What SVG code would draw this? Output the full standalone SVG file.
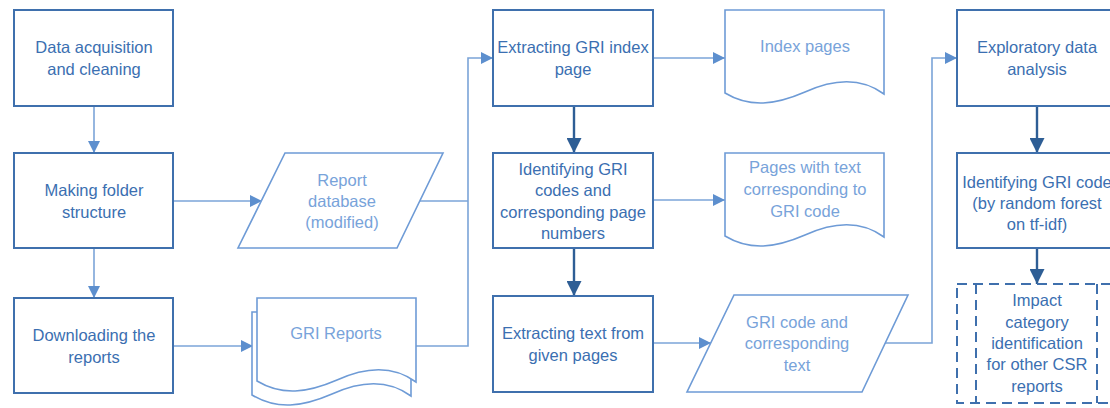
<svg xmlns="http://www.w3.org/2000/svg" width="1110" height="408" viewBox="0 0 1110 408">
<style>
.proc{fill:#fff;stroke:#3f70ad;stroke-width:2}
.data{fill:#fff;stroke:#6e9bd6;stroke-width:1.6}
.dash{fill:none;stroke:#3f70ad;stroke-width:2;stroke-dasharray:10,6}
.ptxt{font-family:"Liberation Sans",Arial,sans-serif;font-size:16.5px;fill:#3b6fb1;text-anchor:middle}
.dtxt{font-family:"Liberation Sans",Arial,sans-serif;font-size:16.5px;fill:#78a3da;text-anchor:middle}
.lc{fill:none;stroke:#7ba4d8;stroke-width:1.6}
.dc{fill:none;stroke:#2e5e95;stroke-width:2.4}
</style>
<defs>
<marker id="la" viewBox="0 0 10 10" refX="10" refY="5" markerWidth="12" markerHeight="12" markerUnits="userSpaceOnUse" orient="auto"><path d="M0,0 L10,5 L0,10 Z" fill="#5d8fce"/></marker>
<marker id="da" viewBox="0 0 10 10" refX="10" refY="5" markerWidth="15" markerHeight="15" markerUnits="userSpaceOnUse" orient="auto"><path d="M0,0 L10,5 L0,10 Z" fill="#2e5e95"/></marker>
<path id="doc" d="M0,0 H159 V84 C140,70 115,66 80,82 C50,95 25,98 0,83 Z"/>
</defs>

<g id="connectors">
<line class="lc" x1="94" y1="106" x2="94" y2="153" marker-end="url(#la)"/>
<line class="lc" x1="94" y1="248" x2="94" y2="298" marker-end="url(#la)"/>
<line class="lc" x1="173" y1="201" x2="262" y2="201" marker-end="url(#la)"/>
<line class="lc" x1="173" y1="346" x2="253" y2="346" marker-end="url(#la)"/>
<line class="lc" x1="420" y1="201" x2="468" y2="201"/>
<polyline class="lc" points="416,346 468,346 468,58 493,58" marker-end="url(#la)"/>
<line class="dc" x1="574" y1="106" x2="574" y2="153" marker-end="url(#da)"/>
<line class="dc" x1="574" y1="248" x2="574" y2="296" marker-end="url(#da)"/>
<line class="lc" x1="653" y1="58" x2="725" y2="58" marker-end="url(#la)"/>
<line class="lc" x1="653" y1="200" x2="725" y2="200" marker-end="url(#la)"/>
<line class="lc" x1="653" y1="343" x2="711" y2="343" marker-end="url(#la)"/>
<polyline class="lc" points="885,343 932,343 932,58 957,58" marker-end="url(#la)"/>
<line class="dc" x1="1037" y1="106" x2="1037" y2="153" marker-end="url(#da)"/>
<line class="dc" x1="1037" y1="248" x2="1037" y2="284" marker-end="url(#da)"/>
</g>

<g id="n-acq"><rect class="proc" x="14" y="10" width="159" height="96"/>
<text class="ptxt" x="94" y="53">Data acquisition</text><text class="ptxt" x="94" y="75">and cleaning</text></g>
<g id="n-folder"><rect class="proc" x="14" y="153" width="159" height="95"/>
<text class="ptxt" x="94" y="196">Making folder</text><text class="ptxt" x="94" y="218">structure</text></g>
<g id="n-download"><rect class="proc" x="14" y="298" width="159" height="95"/>
<text class="ptxt" x="94" y="341">Downloading the</text><text class="ptxt" x="94" y="363">reports</text></g>

<g id="n-reportdb"><polygon class="data" points="285,153 443,153 397,248 238,248"/>
<text class="dtxt" x="342" y="186">Report</text><text class="dtxt" x="342" y="207">database</text><text class="dtxt" x="342" y="228">(modified)</text></g>

<g id="n-grireports">
<use href="#doc" class="data" transform="translate(252,312)"/>
<use href="#doc" class="data" transform="translate(257,298)"/>
<text class="dtxt" x="336" y="339">GRI Reports</text></g>

<g id="n-extract-index"><rect class="proc" x="493" y="10" width="160" height="96"/>
<text class="ptxt" x="573" y="53">Extracting GRI index</text><text class="ptxt" x="573" y="75">page</text></g>
<g id="n-identify"><rect class="proc" x="493" y="153" width="160" height="95"/>
<text class="ptxt" x="573" y="175">Identifying GRI</text><text class="ptxt" x="573" y="196">codes and</text><text class="ptxt" x="573" y="218">corresponding page</text><text class="ptxt" x="573" y="239">numbers</text></g>
<g id="n-extract-text"><rect class="proc" x="493" y="296" width="160" height="96"/>
<text class="ptxt" x="573" y="339">Extracting text from</text><text class="ptxt" x="573" y="361">given pages</text></g>

<g id="n-index-pages"><use href="#doc" class="data" transform="translate(725,10)"/>
<text class="dtxt" x="805" y="52">Index pages</text></g>
<g id="n-pages-text"><use href="#doc" class="data" transform="translate(725,153)"/>
<text class="dtxt" x="805" y="173">Pages with text</text><text class="dtxt" x="805" y="195">corresponding to</text><text class="dtxt" x="805" y="217">GRI code</text></g>
<g id="n-gricode"><polygon class="data" points="734,295 908,295 862,392 687,392"/>
<text class="dtxt" x="797" y="328">GRI code and</text><text class="dtxt" x="797" y="349">corresponding</text><text class="dtxt" x="797" y="371">text</text></g>

<g id="n-eda"><rect class="proc" x="957" y="10" width="160" height="96"/>
<text class="ptxt" x="1037" y="53">Exploratory data</text><text class="ptxt" x="1037" y="75">analysis</text></g>
<g id="n-rf"><rect class="proc" x="957" y="153" width="160" height="95"/>
<text class="ptxt" x="1037" y="188">Identifying GRI code</text><text class="ptxt" x="1037" y="209">(by random forest</text><text class="ptxt" x="1037" y="230">on tf-idf)</text></g>
<g id="n-impact"><rect class="dash" x="957" y="284" width="160" height="119"/>
<line class="dash" x1="976" y1="284" x2="976" y2="403"/><line class="dash" x1="1097" y1="284" x2="1097" y2="403"/>
<text class="ptxt" x="1037" y="306">Impact</text><text class="ptxt" x="1037" y="328">category</text><text class="ptxt" x="1037" y="349">identification</text><text class="ptxt" x="1037" y="370">for other CSR</text><text class="ptxt" x="1037" y="392">reports</text></g>
</svg>
